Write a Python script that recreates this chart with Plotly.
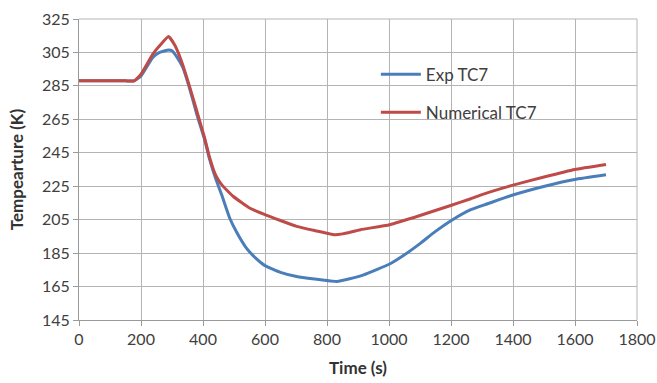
import plotly.graph_objects as go

# Time (s)
exp_time = [0, 50, 100, 150, 178, 200, 238, 260, 289, 300, 315, 335, 356, 380, 405, 420, 440,
            460, 486, 510, 540, 570, 600, 650, 702, 760, 832, 870, 918, 1002, 1050, 1102,
            1150, 1205, 1264, 1318, 1397, 1502, 1599, 1700]
exp_temp = [288, 288, 288, 288, 288, 291, 302, 305, 306.5, 306, 302.5, 296, 284, 268, 253, 242, 230,
            220, 206, 197, 188, 182, 177.5, 173.5, 171, 169.5, 168, 169.5, 172, 178.5, 184, 191,
            198, 205, 211, 214.5, 219.6, 225, 229, 231.8]

num_time = [0, 50, 100, 150, 178, 200, 238, 260, 289, 310, 330, 356, 380, 405, 420, 440, 460,
            497, 550, 600, 650, 702, 760, 825, 850, 908, 1002, 1100, 1199, 1264, 1300, 1397,
            1500, 1599, 1700]
num_temp = [288, 288, 288, 288, 288, 292, 304, 309, 314.5, 309, 300, 285, 270, 254, 243, 232, 226,
            219, 212, 208, 204.5, 201, 198.5, 196, 196.5, 199, 202, 207.5, 213.5, 217.5, 220, 225.5,
            230.5, 235, 238]

x_ticks = [0, 200, 400, 600, 800, 1000, 1200, 1400, 1600, 1800]
y_ticks = [145, 165, 185, 205, 225, 245, 265, 285, 305, 325]

fig = go.Figure()
fig.add_trace(go.Scatter(x=exp_time, y=exp_temp, mode="lines", name="Exp TC7",
                         legendgroup="a",
                         line=dict(color="#4a7ebb", width=3, shape="spline", smoothing=0.4)))
fig.add_trace(go.Scatter(x=num_time, y=num_temp, mode="lines", name="Numerical TC7",
                         legendgroup="b",
                         line=dict(color="#be4b48", width=3, shape="spline", smoothing=0.4)))

fam = "Lato, Open Sans, sans-serif"
fig.update_layout(
    width=657, height=383,
    margin=dict(l=79, r=20, t=19, b=63),
    paper_bgcolor="white", plot_bgcolor="white",
    font=dict(family=fam, size=16, color="#404040"),
    showlegend=True,
    legend=dict(x=0.532, y=0.875, xanchor="left", yanchor="top",
                bgcolor="rgba(0,0,0,0)", font=dict(family=fam, size=17, color="#404040"),
                tracegroupgap=13, itemwidth=40),
    xaxis=dict(range=[0, 1800], tickvals=x_ticks, ticktext=[str(v) for v in x_ticks],
               showgrid=True, gridcolor="#b4b4b4", gridwidth=1,
               showline=True, linecolor="#9a9a9a", linewidth=1,
               ticks="outside", ticklen=5, tickcolor="#9a9a9a",
               zeroline=False, automargin=False,
               tickfont=dict(family=fam, size=16, color="#404040"),
               title=dict(text="<b>Time (s)</b>", font=dict(family=fam, size=17, color="#333333"), standoff=14)),
    yaxis=dict(range=[145, 325], tickvals=y_ticks, ticktext=[str(v) for v in y_ticks],
               showgrid=True, gridcolor="#b4b4b4", gridwidth=1,
               showline=True, linecolor="#9a9a9a", linewidth=1,
               ticks="outside", ticklen=5, tickcolor="#9a9a9a",
               zeroline=False, automargin=False,
               tickfont=dict(family=fam, size=16, color="#404040"),
               title=dict(text="<b>Tempearture (K)</b>", font=dict(family=fam, size=17, color="#333333"), standoff=14)),
)
fig.add_shape(type="line", xref="paper", yref="paper", x0=1, x1=1, y0=0, y1=1,
              line=dict(color="#b4b4b4", width=1))
fig.add_shape(type="line", xref="paper", yref="paper", x0=0, x1=1, y0=1, y1=1,
              line=dict(color="#b4b4b4", width=1))

fig.write_html("out.html")
